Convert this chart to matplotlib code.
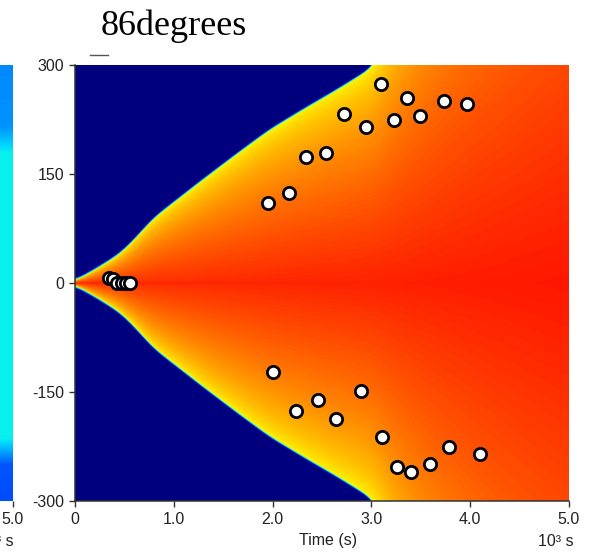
import numpy as np
import matplotlib
matplotlib.use("Agg")
import matplotlib.pyplot as plt
from matplotlib.lines import Line2D

# ---------------- data ----------------
title = "86degrees"
xticks = [0, 1, 2, 3, 4, 5]
xticklabels = ["0", "1.0", "2.0", "3.0", "4.0", "5.0"]
yticks = [300, 150, 0, -150, -300]
yticklabels = ["300", "150", "0", "-150", "-300"]

# upper group of points (time in 10^3 s, value)
up_t = [1.95, 2.17, 2.34, 2.54, 2.72, 2.95, 3.10, 3.23, 3.36, 3.49, 3.73, 3.97]
up_y = [110, 124, 174, 179, 232, 215, 274, 225, 255, 230, 251, 246]
# lower group of points
low_t = [2.00, 2.24, 2.46, 2.64, 2.89, 3.11, 3.26, 3.40, 3.59, 3.79, 4.10]
low_y = [-123, -176, -161, -187, -149, -212, -253, -260, -249, -226, -235]
# cluster near origin
cl_t = [0.34, 0.38, 0.43, 0.48, 0.52, 0.56]
cl_y = [7, 5, 0, 0, 0, 0]

# envelope of the coloured region (half-width vs time)
env_t = [0, 0.29, 0.47, 0.62, 0.79, 0.96, 1.30, 1.64, 1.97, 2.31, 2.65, 3.03, 4.0, 5.0]
env_w = [2, 25, 41, 62, 88, 106, 142, 177, 210, 238, 265, 297, 600, 900]

# neighbouring (cropped) panel vertical profile
lp_y = [-300, -250, -215, 180, 215, 300]
lp_v = [0.20, 0.21, 0.36, 0.36, 0.27, 0.26]

# ---------------- figure ----------------
W, H = 589, 557
fig = plt.figure(figsize=(W / 100, H / 100), dpi=100)
sans = "Liberation Sans"
tick_fs = 11.5

ax = fig.add_axes([75 / W, 1 - 501 / H, (569 - 75) / W, (501 - 65) / H])

t = np.linspace(0, 5, 1200)
yy = np.linspace(-300, 300, 900)

# smooth the envelope
tt = np.linspace(-1, 6, 3501)
e_raw = np.interp(tt, env_t, env_w)
dt = tt[1] - tt[0]
sig = 0.07
kx = np.arange(-4 * sig, 4 * sig + dt, dt)
ker = np.exp(-0.5 * (kx / sig) ** 2)
ker /= ker.sum()
e_s = np.convolve(e_raw, ker, mode="same")
env1 = np.maximum(np.interp(t, tt, e_s), 1.0)

T, Y = np.meshgrid(t, yy)
env = np.broadcast_to(env1[None, :], T.shape)
r = np.abs(Y) / env
inside = r <= 1
amp = 0.21 + 0.03 * np.clip(T / 5.0, 0, 1)
v = np.zeros_like(T)
v[inside] = 0.645 + amp[inside] * (1 - r[inside]) ** 0.6
v += inside * 0.015 * np.exp(-(Y / 2.0) ** 2) * np.clip(1 - T / 3.0, 0, 1)
d = np.abs(Y) - env
edge = (d > 0) & (d < 3.5)
v[edge] = 0.6 * (1 - d[edge] / 3.5)
ax.imshow(v, extent=[0, 5, -300, 300], origin="lower", cmap="jet", vmin=0, vmax=1,
          aspect="auto", interpolation="bilinear")

sc_kw = dict(s=78, facecolor="white", edgecolor="black", linewidths=2.0, zorder=3)
ax.scatter(up_t, up_y, **sc_kw)
ax.scatter(low_t, low_y, **sc_kw)
ax.scatter(cl_t, cl_y, **sc_kw)

ax.set_xlim(0, 5)
ax.set_ylim(-300, 300)
ax.set_xticks(xticks)
ax.set_xticklabels(xticklabels, fontsize=tick_fs, family=sans, color="#222222")
ax.set_yticks(yticks)
ax.set_yticklabels(yticklabels, fontsize=tick_fs, family=sans, color="#222222")
ax.tick_params(direction="out", length=4.5, width=1, color="#333333", pad=3.5)
for s in ["top", "right"]:
    ax.spines[s].set_visible(False)
for s in ["left", "bottom"]:
    ax.spines[s].set_color("#333333")
    ax.spines[s].set_linewidth(1.1)

fig.text(328 / W, 1 - 541 / H, "Time (s)", ha="center", va="center",
         fontsize=tick_fs, family=sans, color="#222222")
fig.text(574 / W, 1 - 541 / H, "10³ s", ha="right", va="center",
         fontsize=tick_fs, family=sans, color="#222222")

# cropped neighbouring panel on the left
ax2 = fig.add_axes([-0.3, 1 - 501 / H, 0.3 + 13 / W, (501 - 65) / H])
col = np.interp(yy, lp_y, lp_v)[:, None] * np.ones((1, 10))
ax2.imshow(col, extent=[0, 5, -300, 300], origin="lower", cmap="jet", vmin=0, vmax=1,
           aspect="auto", interpolation="bilinear")
ax2.set_xlim(0, 5)
ax2.set_ylim(-300, 300)
ax2.set_xticks([5])
ax2.set_xticklabels(["5.0"], fontsize=tick_fs, family=sans, color="#222222")
ax2.set_yticks([])
ax2.tick_params(direction="out", length=4.5, width=1, color="#333333", pad=3.5)
for s in ["top", "right", "left", "bottom"]:
    ax2.spines[s].set_visible(False)
fig.text(14 / W, 1 - 541 / H, "10³ s", ha="right", va="center",
         fontsize=tick_fs, family=sans, color="#222222")

# title and small stray mark
fig.text(174 / W, 1 - 35 / H, title, ha="center", va="baseline",
         fontsize=26, family="Liberation Serif", color="black")
fig.add_artist(Line2D([90 / W, 108 / W], [1 - 55 / H, 1 - 55 / H], color="#555555", lw=1))

fig.savefig("out.png", dpi=100)
